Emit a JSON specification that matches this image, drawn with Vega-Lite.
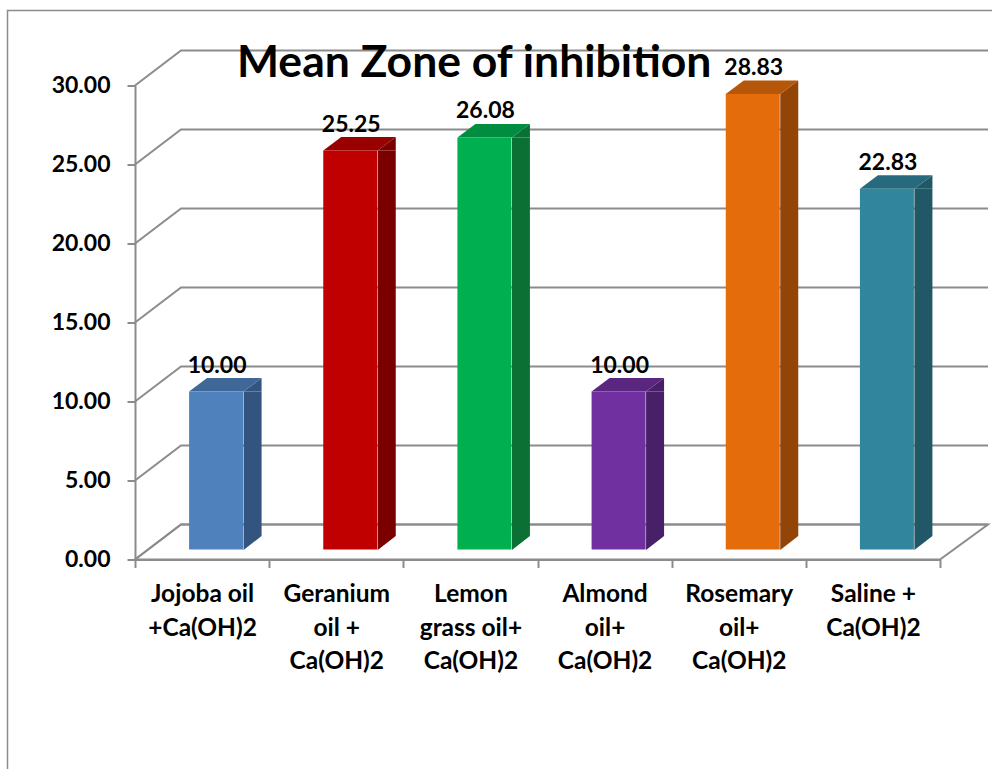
{"$schema":"https://vega.github.io/schema/vega-lite/v6.json","autosize":"none","padding":{"left":135,"top":85.5,"right":52,"bottom":209.5},"width":805,"height":474,"background":"white","title":{"text":"Mean Zone of inhibition","font":"Lato","fontSize":44.5,"fontWeight":"bold","color":"black","anchor":"start","frame":"group","dx":102,"offset":-79},"config":{"view":{"stroke":null}},"datasets":{"bars":[{"c":"Jojoba oil|+Ca(OH)2","v":10.00},{"c":"Geranium|oil +|Ca(OH)2","v":25.25},{"c":"Lemon|grass oil+|Ca(OH)2","v":26.08},{"c":"Almond|oil+|Ca(OH)2","v":10.00},{"c":"Rosemary|oil+|Ca(OH)2","v":28.83},{"c":"Saline +|Ca(OH)2","v":22.83}],"ticks":[{"c":"Jojoba oil|+Ca(OH)2","t":0},{"c":"Jojoba oil|+Ca(OH)2","t":5},{"c":"Jojoba oil|+Ca(OH)2","t":10},{"c":"Jojoba oil|+Ca(OH)2","t":15},{"c":"Jojoba oil|+Ca(OH)2","t":20},{"c":"Jojoba oil|+Ca(OH)2","t":25},{"c":"Jojoba oil|+Ca(OH)2","t":30}]},"encoding":{"x":{"field":"c","type":"nominal","sort":null,"scale":{"paddingInner":0,"paddingOuter":0},"axis":{"title":null,"labelAngle":0,"labelExpr":"split(datum.label,'|')","labelFont":"Lato","labelFontSize":24.5,"labelFontWeight":"bold","labelColor":"black","labelLineHeight":33.5,"labelPadding":15,"labelBaseline":"top","tickBand":"extent","tickColor":"#8c8c8c","tickWidth":2,"tickSize":8,"domainColor":"#8c8c8c","domainWidth":2,"labelLimit":200}}},"layer":[{"data":{"name":"ticks"},"mark":{"type":"point","filled":false,"fill":"transparent","stroke":"#8c8c8c","strokeWidth":2,"opacity":1,"size":4,"shape":"M0,0L46,-35L853,-35"},"encoding":{"x":{"field":"c","type":"nominal","sort":null,"bandPosition":0},"y":{"field":"t","type":"quantitative","scale":{"domain":[0,30]},"axis":{"title":null,"values":[0,5,10,15,20,25,30],"format":".2f","grid":false,"labelFont":"Lato","labelFontSize":23,"labelFontWeight":"bold","labelColor":"black","labelPadding":17,"tickColor":"#8c8c8c","tickWidth":2,"tickSize":8,"domainColor":"#8c8c8c","domainWidth":2}}}},{"data":{"name":"ticks"},"transform":[{"filter":"datum.t==0"}],"mark":{"type":"point","filled":false,"fill":"transparent","stroke":"#8c8c8c","strokeWidth":2,"opacity":1,"size":4,"shape":"M0,0L805,0L853,-35L46,-35Z"},"encoding":{"x":{"field":"c","type":"nominal","sort":null,"bandPosition":0},"y":{"field":"t","type":"quantitative"}}},{"data":{"name":"ticks"},"transform":[{"filter":"datum.t==30"}],"mark":{"type":"point","filled":false,"fill":"transparent","stroke":"#8c8c8c","strokeWidth":1.5,"opacity":1,"size":4,"shape":"M-127.5,683.5L-127.5,-75L857,-75"},"encoding":{"x":{"field":"c","type":"nominal","sort":null,"bandPosition":0},"y":{"field":"t","type":"quantitative"}}},{"data":{"name":"bars"},"mark":{"type":"bar","size":18,"xOffset":50.5,"yOffset":-10,"y2Offset":-23.5},"encoding":{"y":{"field":"v","type":"quantitative"},"y2":{"datum":0},"fill":{"field":"c","type":"nominal","sort":null,"legend":null,"scale":{"range":["#345480","#7A0000","#0A7034","#472068","#934507","#205867"]}}}},{"data":{"name":"bars"},"mark":{"type":"point","filled":true,"opacity":1,"size":4,"strokeWidth":0,"shape":"M41.5,-9.5L59.5,-23.5L41.5,-23.5Z"},"encoding":{"y":{"datum":0,"type":"quantitative"},"fill":{"field":"c","type":"nominal","sort":null,"legend":null,"scale":{"range":["#345480","#7A0000","#0A7034","#472068","#934507","#205867"]}}}},{"data":{"name":"bars"},"mark":{"type":"point","filled":true,"opacity":1,"size":4,"strokeWidth":0,"shape":"M41.5,-10L59.5,-23.5L59.5,-10Z"},"encoding":{"y":{"field":"v","type":"quantitative"},"fill":{"field":"c","type":"nominal","sort":null,"legend":null,"scale":{"range":["#345480","#7A0000","#0A7034","#472068","#934507","#205867"]}}}},{"data":{"name":"bars"},"mark":{"type":"point","filled":true,"opacity":1,"size":4,"strokeWidth":0,"shape":"M-13,-10L41.5,-10L59.5,-23.5L5,-23.5Z"},"encoding":{"y":{"field":"v","type":"quantitative"},"fill":{"field":"c","type":"nominal","sort":null,"legend":null,"scale":{"range":["#3F6797","#990000","#008D40","#5A2680","#B65608","#276A7D"]}}}},{"data":{"name":"bars"},"mark":{"type":"bar","size":54,"xOffset":14,"yOffset":-10,"y2Offset":-10},"encoding":{"y":{"field":"v","type":"quantitative"},"y2":{"datum":0},"fill":{"field":"c","type":"nominal","sort":null,"legend":null,"scale":{"range":["#4F81BD","#C00000","#00B050","#7030A0","#E46C0A","#31859C"]}}}},{"data":{"name":"bars"},"mark":{"type":"text","font":"Lato","fontSize":23,"fontWeight":"bold","color":"black","dx":15,"dy":-29,"baseline":"alphabetic"},"encoding":{"y":{"field":"v","type":"quantitative"},"text":{"field":"v","type":"quantitative","format":".2f"}}}],"resolve":{"scale":{"fill":"independent"}}}
